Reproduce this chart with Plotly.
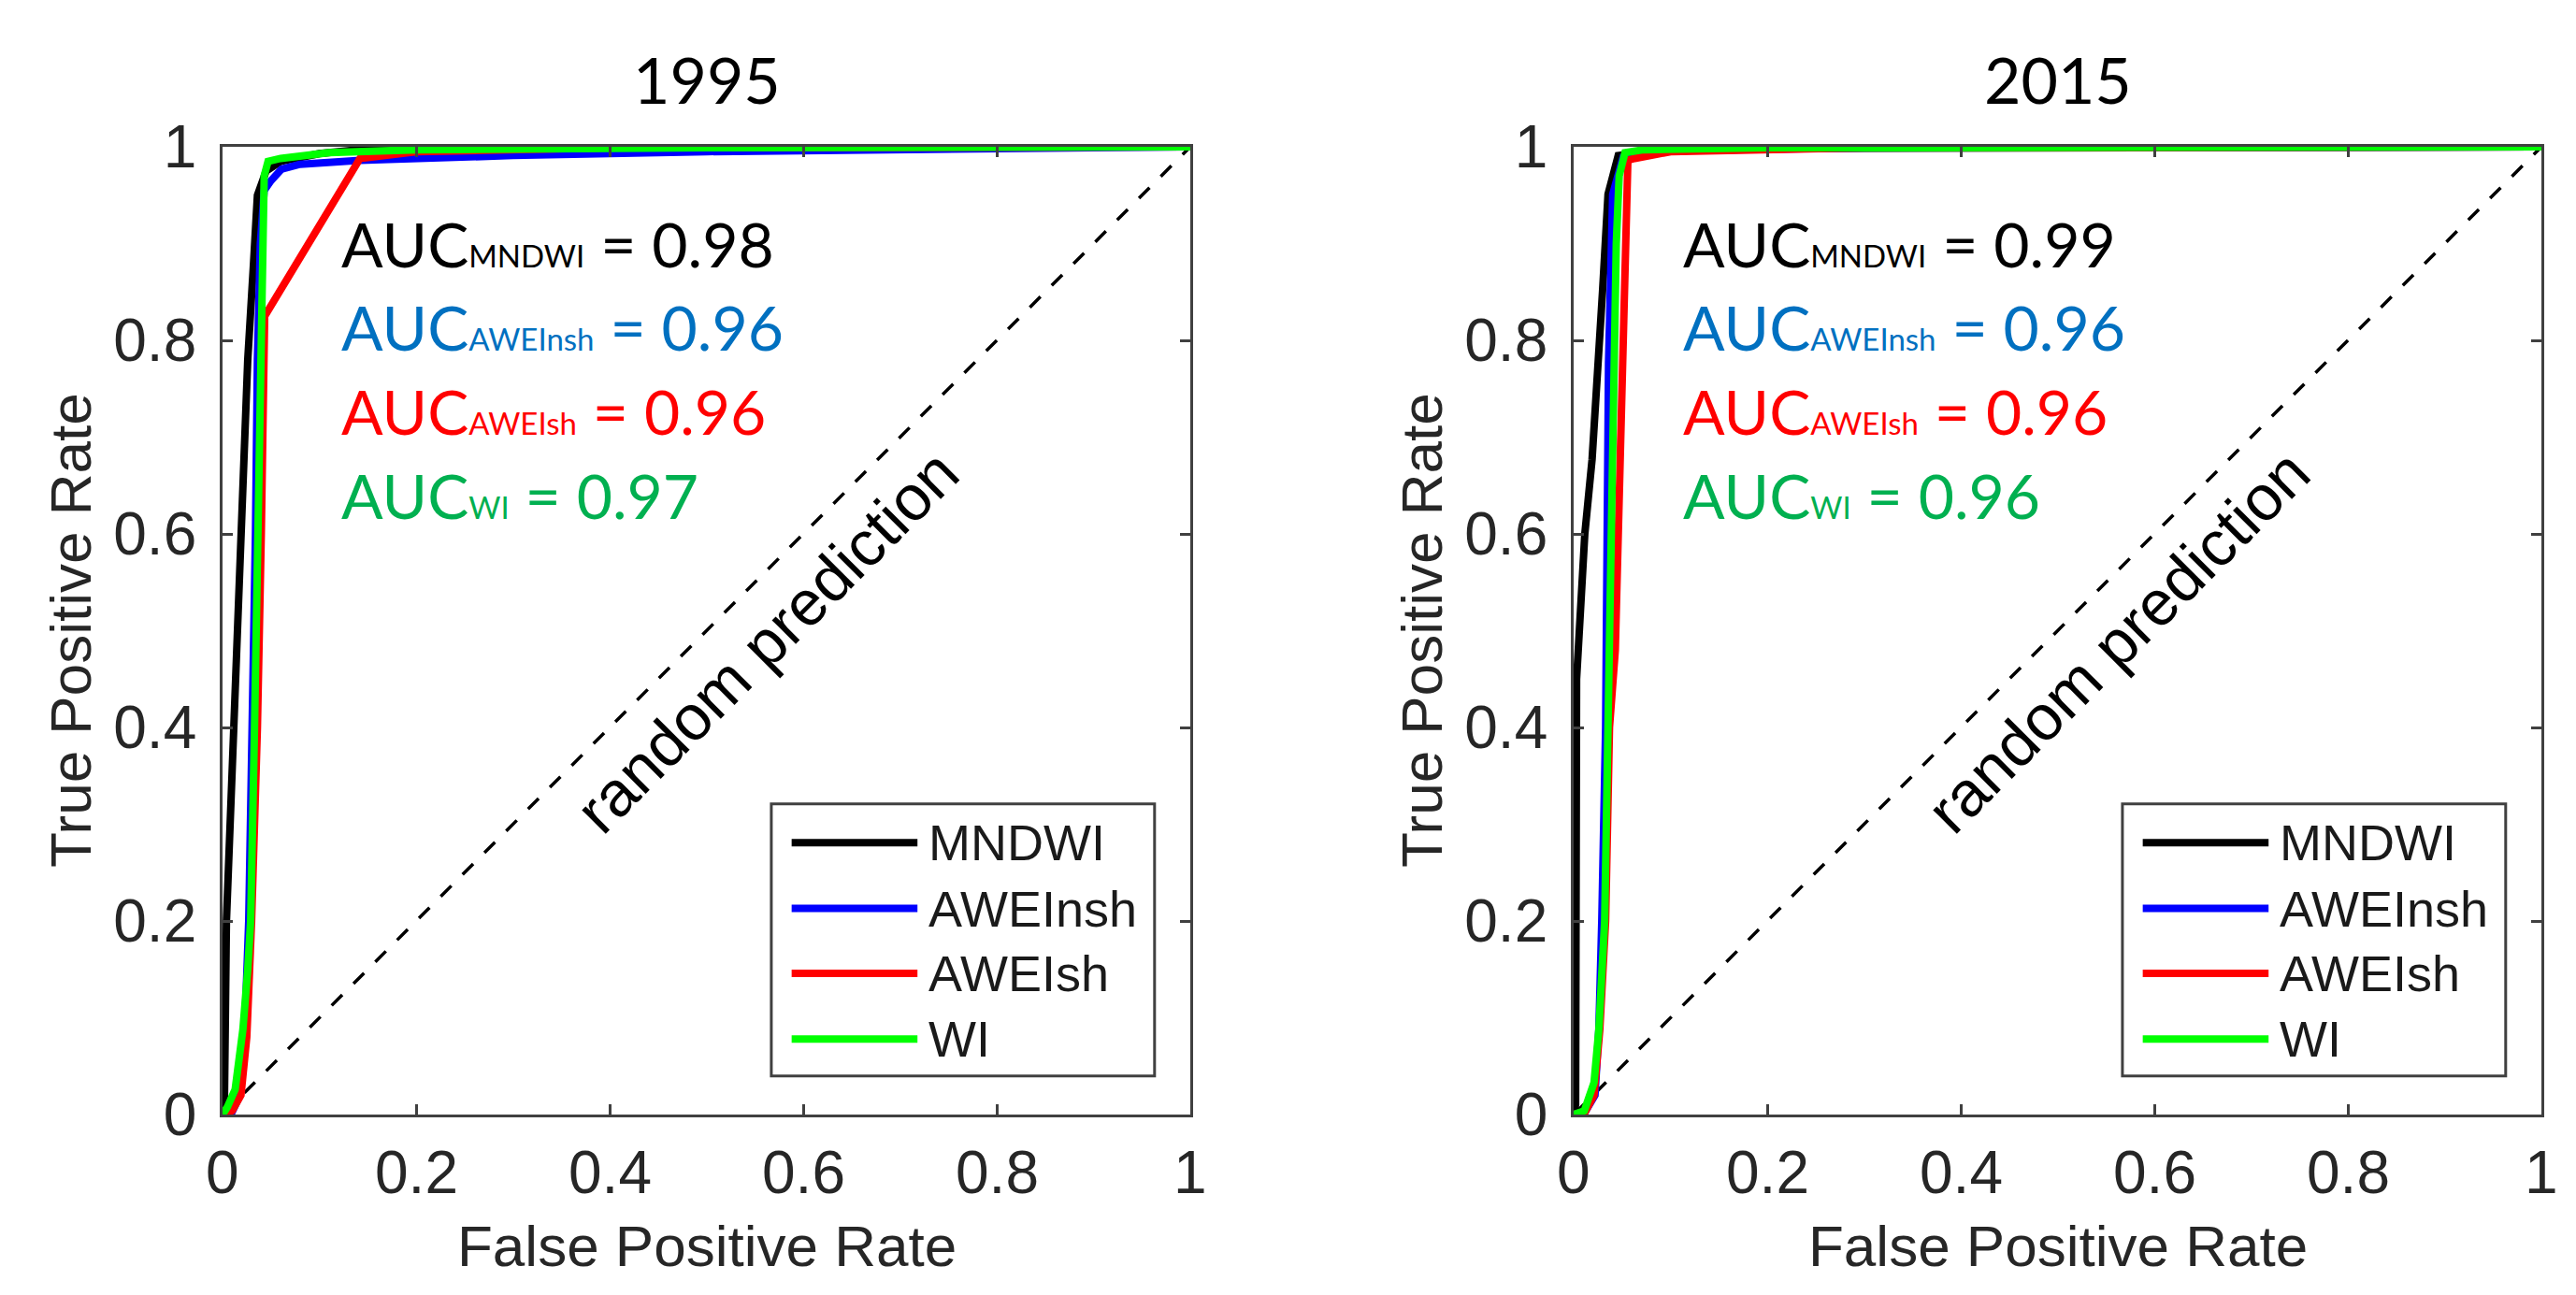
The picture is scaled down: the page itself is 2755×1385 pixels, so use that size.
import plotly.graph_objects as go

# ROC curves: false positive rate (x) / true positive rate (y)
fpr_1995_mndwi = [0, 0.002, 0.004, 0.012, 0.019, 0.026, 0.032, 0.036, 0.045, 0.06, 0.1, 0.15, 0.2, 1]
tpr_1995_mndwi = [0, 0.02, 0.2, 0.4, 0.6, 0.78, 0.88, 0.95, 0.975, 0.985, 0.993, 0.998, 1, 1]
fpr_1995_aweinsh = [0, 0.01, 0.018, 0.023, 0.027, 0.031, 0.034, 0.036, 0.039, 0.043, 0.05, 0.061, 0.08, 0.142, 0.3, 0.5, 1]
tpr_1995_aweinsh = [0, 0.003, 0.02, 0.09, 0.2, 0.4, 0.6, 0.78, 0.9, 0.955, 0.965, 0.977, 0.982, 0.986, 0.991, 0.995, 1]
fpr_1995_aweish = [0, 0.01, 0.019, 0.025, 0.03, 0.036, 0.04, 0.043, 0.0435, 0.142, 0.2, 0.4, 1]
tpr_1995_aweish = [0, 0.004, 0.02, 0.08, 0.2, 0.4, 0.6, 0.78, 0.825, 0.988, 0.995, 0.999, 1]
fpr_1995_wi = [0, 0.005, 0.013, 0.021, 0.026, 0.029, 0.033, 0.036, 0.039, 0.041, 0.043, 0.047, 0.06, 0.11, 0.2, 0.5, 1]
tpr_1995_wi = [0, 0.008, 0.026, 0.088, 0.15, 0.2, 0.4, 0.6, 0.78, 0.9, 0.97, 0.985, 0.988, 0.994, 0.997, 0.999, 1]

fpr_2015_mndwi = [0, 0.002, 0.003, 0.005, 0.0115, 0.019, 0.026, 0.03, 0.0355, 0.046, 0.1, 1]
tpr_2015_mndwi = [0, 0.01, 0.45, 0.48, 0.6, 0.677, 0.777, 0.854, 0.951, 0.991, 0.998, 1]
fpr_2015_aweinsh = [0, 0.012, 0.022, 0.026, 0.029, 0.033, 0.036, 0.0386, 0.0403, 0.051, 0.1, 0.3, 1]
tpr_2015_aweinsh = [0, 0.003, 0.02, 0.088, 0.2, 0.4, 0.777, 0.9, 0.951, 0.989, 0.996, 0.999, 1]
fpr_2015_aweish = [0, 0.012, 0.021, 0.027, 0.033, 0.037, 0.043, 0.05, 0.054, 0.056, 0.063, 0.1, 0.3, 1]
tpr_2015_aweish = [0, 0.003, 0.02, 0.088, 0.2, 0.4, 0.48, 0.777, 0.9, 0.986, 0.988, 0.995, 0.999, 1]
fpr_2015_wi = [0, 0.011, 0.021, 0.026, 0.032, 0.037, 0.042, 0.044, 0.047, 0.053, 0.072, 0.2, 1]
tpr_2015_wi = [0, 0.004, 0.033, 0.088, 0.2, 0.5, 0.777, 0.9, 0.97, 0.994, 0.997, 0.999, 1]

index_names = ["MNDWI", "AWEInsh", "AWEIsh", "WI"]
line_colors = ["#000000", "#0000FF", "#FF0000", "#00FF00"]
text_colors = ["#000000", "#0070C0", "#FF0000", "#00B050"]
auc_1995 = [0.98, 0.96, 0.96, 0.97]
auc_2015 = [0.99, 0.96, 0.96, 0.96]
panel_titles = ["1995", "2015"]
tick_vals = [0, 0.2, 0.4, 0.6, 0.8, 1]
tick_text = ["0", "0.2", "0.4", "0.6", "0.8", "1"]

panels = [
    dict(title=panel_titles[0], auc=auc_1995, auc_x=0.121,
         fpr=[fpr_1995_mndwi, fpr_1995_aweinsh, fpr_1995_aweish, fpr_1995_wi],
         tpr=[tpr_1995_mndwi, tpr_1995_aweinsh, tpr_1995_aweish, tpr_1995_wi]),
    dict(title=panel_titles[1], auc=auc_2015, auc_x=0.111,
         fpr=[fpr_2015_mndwi, fpr_2015_aweinsh, fpr_2015_aweish, fpr_2015_wi],
         tpr=[tpr_2015_mndwi, tpr_2015_aweinsh, tpr_2015_aweish, tpr_2015_wi]),
]

tick_font = dict(family="Liberation Sans", size=64, color="#262626")

fig = go.Figure()
annotations = []
shapes = []

for i, p in enumerate(panels):
    xa = "x" if i == 0 else "x2"
    ya = "y" if i == 0 else "y2"
    xd = xa + " domain"
    yd = ya + " domain"

    # random prediction diagonal
    fig.add_trace(go.Scatter(x=[0, 1], y=[0, 1], mode="lines", xaxis=xa, yaxis=ya,
                             line=dict(color="black", width=3.5, dash="16px,17px"),
                             showlegend=False, hoverinfo="skip"))
    for k, name in enumerate(index_names):
        fig.add_trace(go.Scatter(x=p["fpr"][k], y=p["tpr"][k], mode="lines", name=name,
                                 xaxis=xa, yaxis=ya, showlegend=False,
                                 line=dict(color=line_colors[k], width=8)))

    # x tick labels, placed at the tick values
    for tv, tt in zip(tick_vals, tick_text):
        annotations.append(dict(text=tt, xref=xa, yref=yd, x=tv, y=-0.060,
                                showarrow=False, xanchor="center", yanchor="middle",
                                font=tick_font))

    # panel title
    annotations.append(dict(text=p["title"], xref=xd, yref=yd, x=0.5, y=1.0705,
                            showarrow=False, xanchor="center", yanchor="middle",
                            font=dict(family="Lato", size=68, color="black")))
    # axis titles
    annotations.append(dict(text="False Positive Rate", xref=xd, yref=yd, x=0.5, y=-0.136,
                            showarrow=False, xanchor="center", yanchor="middle",
                            font=dict(family="Liberation Sans", size=62, color="#262626")))
    annotations.append(dict(text="True Positive Rate", xref=xd, yref=yd, x=-0.157, y=0.5,
                            showarrow=False, xanchor="center", yanchor="middle", textangle=-90,
                            font=dict(family="Liberation Sans", size=62, color="#262626")))
    # random prediction label
    annotations.append(dict(text="random prediction", xref=xd, yref=yd, x=0.562, y=0.489,
                            showarrow=False, xanchor="center", yanchor="middle", textangle=-45,
                            font=dict(family="Liberation Sans", size=68, color="black")))
    # AUC values
    auc_y = [0.900, 0.814, 0.727, 0.640]
    for k, name in enumerate(index_names):
        annotations.append(dict(
            text=f"AUC<span style='font-size:33px'>{name}</span> = {p['auc'][k]:.2f}",
            xref=xd, yref=yd, x=p["auc_x"], y=auc_y[k], showarrow=False,
            xanchor="left", yanchor="middle",
            font=dict(family="Lato", size=66, color=text_colors[k])))

    # legend box drawn inside the axes
    shapes.append(dict(type="rect", xref=xd, yref=yd, x0=0.567, x1=0.963, y0=0.040, y1=0.321,
                       line=dict(color="#404040", width=3), fillcolor="white", layer="above"))
    legend_y = [0.281, 0.213, 0.146, 0.078]
    for k, name in enumerate(index_names):
        shapes.append(dict(type="line", xref=xd, yref=yd, x0=0.588, x1=0.718,
                           y0=legend_y[k], y1=legend_y[k],
                           line=dict(color=line_colors[k], width=8), layer="above"))
        annotations.append(dict(text=name, xref=xd, yref=yd, x=0.727, y=legend_y[k],
                                showarrow=False, xanchor="left", yanchor="middle",
                                font=dict(family="Liberation Sans", size=54, color="#1a1a1a")))

axis_style = dict(range=[0, 1], tickvals=tick_vals, ticktext=tick_text, ticks="inside",
                  ticklen=11, tickwidth=3, tickcolor="#404040", showline=True, linewidth=3,
                  linecolor="#404040", mirror="allticks", showgrid=False, zeroline=False,
                  automargin=False, tickfont=tick_font, fixedrange=True)

fig.update_layout(
    width=2755, height=1385,
    margin=dict(l=0, r=0, t=0, b=0),
    paper_bgcolor="white", plot_bgcolor="white",
    showlegend=False,
    xaxis=dict(domain=[0.0835, 0.4592], anchor="y", showticklabels=False, **axis_style),
    yaxis=dict(domain=[0.1451, 0.8924], anchor="x", ticklabelstandoff=12, **axis_style),
    xaxis2=dict(domain=[0.608, 0.9837], anchor="y2", showticklabels=False, **axis_style),
    yaxis2=dict(domain=[0.1451, 0.8924], anchor="x2", ticklabelstandoff=12, **axis_style),
    annotations=annotations,
    shapes=shapes,
)

fig.write_html("out.html")
